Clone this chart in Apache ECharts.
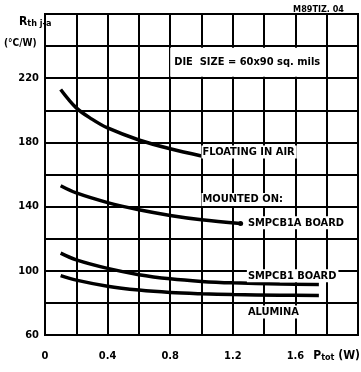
<!DOCTYPE html>
<html>
<head>
<meta charset="utf-8">
<script src="https://cdn.jsdelivr.net/npm/echarts@6/dist/echarts.min.js"></script>
<style>
html,body{margin:0;padding:0;background:#fff;}
#c{width:361px;height:372px;}
</style>
</head>
<body>
<div id="c"></div>
<script>
// Data
const xTickLabels = ['0', '0.4', '0.8', '1.2', '1.6'];
const yTickLabels = ['60', '100', '140', '180', '220'];

const pFloating = [0.1, 0.2, 0.3, 0.4, 0.6, 0.8, 1.0];
const rFloating = [213, 201.5, 194.5, 189, 181.5, 176, 171.5];

const pSmpcb1a = [0.1, 0.2, 0.4, 0.6, 0.8, 1.0, 1.25];
const rSmpcb1a = [153, 148.5, 142.5, 138, 134.5, 131.8, 129.5];

const pSmpcb1 = [0.1, 0.2, 0.4, 0.6, 0.8, 1.0, 1.2, 1.5, 1.75];
const rSmpcb1 = [111, 106.8, 101.5, 97.6, 95, 93.4, 92.5, 91.8, 91.5];

const pAlumina = [0.1, 0.2, 0.4, 0.6, 0.8, 1.0, 1.2, 1.5, 1.75];
const rAlumina = [97, 94.2, 90.4, 88, 86.5, 85.7, 85.2, 84.8, 84.6];

const annotations = [
  { text: 'FLOATING IN AIR', x: 1.0, y: 174 },
  { text: 'MOUNTED ON:', x: 1.0, y: 144.4 },
  { text: 'SMPCB1A BOARD', x: 1.29, y: 130 },
  { text: 'SMPCB1 BOARD', x: 1.29, y: 96.9 },
  { text: 'ALUMINA', x: 1.29, y: 74.4 }
];
const dieSizeText = 'DIE  SIZE = 60x90 sq. mils';
const dieSizePos = { x: 0.80, y: 230 };

const FONT = "'DejaVu Sans Condensed', 'Liberation Sans Narrow', 'DejaVu Sans', sans-serif";

function zip(xs, ys) { return xs.map((x, i) => [x, ys[i]]); }

const lineStyle = { color: '#000', width: 3.5 };
function curve(name, xs, ys, endMarker) {
  const data = zip(xs, ys).map((d, i) => {
    if (endMarker && i === xs.length - 1) {
      return { value: d, symbol: 'circle', symbolSize: 5, itemStyle: { color: '#000' } };
    }
    return { value: d, symbol: 'none' };
  });
  return {
    name, type: 'line', data, smooth: 0.35,
    showSymbol: true, symbol: 'none', lineStyle, silent: true, z: 3
  };
}

const chart = echarts.init(document.getElementById('c'), null, { renderer: 'canvas' });

const annoSeries = {
  type: 'line', data: [], silent: true, z: 5,
  markPoint: {
    symbol: 'circle', symbolSize: 0, silent: true, animation: false,
    label: {
      show: true, position: [0, 0], align: 'left', verticalAlign: 'middle',
      color: '#000', fontFamily: FONT, fontWeight: 'bold', fontSize: 11,
      backgroundColor: '#fff', padding: [1, 2, 1, 1]
    },
    data: annotations.map(a => ({ coord: [a.x, a.y], label: { formatter: a.text } })).concat([
      { coord: [dieSizePos.x, dieSizePos.y],
        label: { formatter: dieSizeText, width: 146, padding: [9, 3, 9, 4], fontSize: 11 } }
    ])
  }
};

chart.setOption({
  animation: false,
  backgroundColor: '#fff',
  grid: { left: 45, right: 1, top: 14, bottom: 37, show: true, borderColor: '#000', borderWidth: 2 },
  xAxis: {
    type: 'value', min: 0, max: 2, interval: 0.2,
    axisLine: { show: false }, axisTick: { show: false },
    splitLine: { show: true, lineStyle: { color: '#000', width: 2 } },
    axisLabel: {
      margin: 16, color: '#000', fontFamily: FONT, fontWeight: 'bold', fontSize: 11,
      formatter: v => { const s = (Math.round(v * 10) / 10).toString(); const t = s === '0' ? '0' : (s.indexOf('.') < 0 ? s + '.0' : s); return xTickLabels.includes(t) ? t : ''; }
    }
  },
  yAxis: {
    type: 'value', min: 60, max: 260, interval: 20,
    axisLine: { show: false }, axisTick: { show: false },
    splitLine: { show: true, lineStyle: { color: '#000', width: 2 } },
    axisLabel: {
      margin: 6, color: '#000', fontFamily: FONT, fontWeight: 'bold', fontSize: 11,
      formatter: v => yTickLabels.includes(String(v)) ? String(v) : ''
    }
  },
  graphic: [
    { type: 'text', right: 17, top: 5, style: { text: 'M89TIZ. 04', fill: '#000', font: "bold 9px " + FONT } },
    { type: 'text', left: 19, top: 16, style: {
        text: '{b|R}{s|th j-a}', fill: '#000',
        rich: { b: { fontSize: 12, fontWeight: 'bold', fontFamily: FONT }, s: { fontSize: 9, fontWeight: 'bold', fontFamily: FONT, padding: [3, 0, 0, 0] } }
      } },
    { type: 'text', left: 4, top: 38, style: { text: '(°C/W)', fill: '#000', font: "bold 10px " + FONT } },
    { type: 'text', right: 1, top: 350, style: {
        text: '{b|P}{s|tot}{b| (W)}', fill: '#000',
        rich: { b: { fontSize: 12, fontWeight: 'bold', fontFamily: FONT }, s: { fontSize: 9, fontWeight: 'bold', fontFamily: FONT, padding: [4, 0, 0, 0] } }
      } }
  ],
  series: [
    curve('Floating in air', pFloating, rFloating, false),
    curve('SMPCB1A board', pSmpcb1a, rSmpcb1a, true),
    curve('SMPCB1 board', pSmpcb1, rSmpcb1, false),
    curve('Alumina', pAlumina, rAlumina, false),
    annoSeries
  ]
});
</script>
</body>
</html>
